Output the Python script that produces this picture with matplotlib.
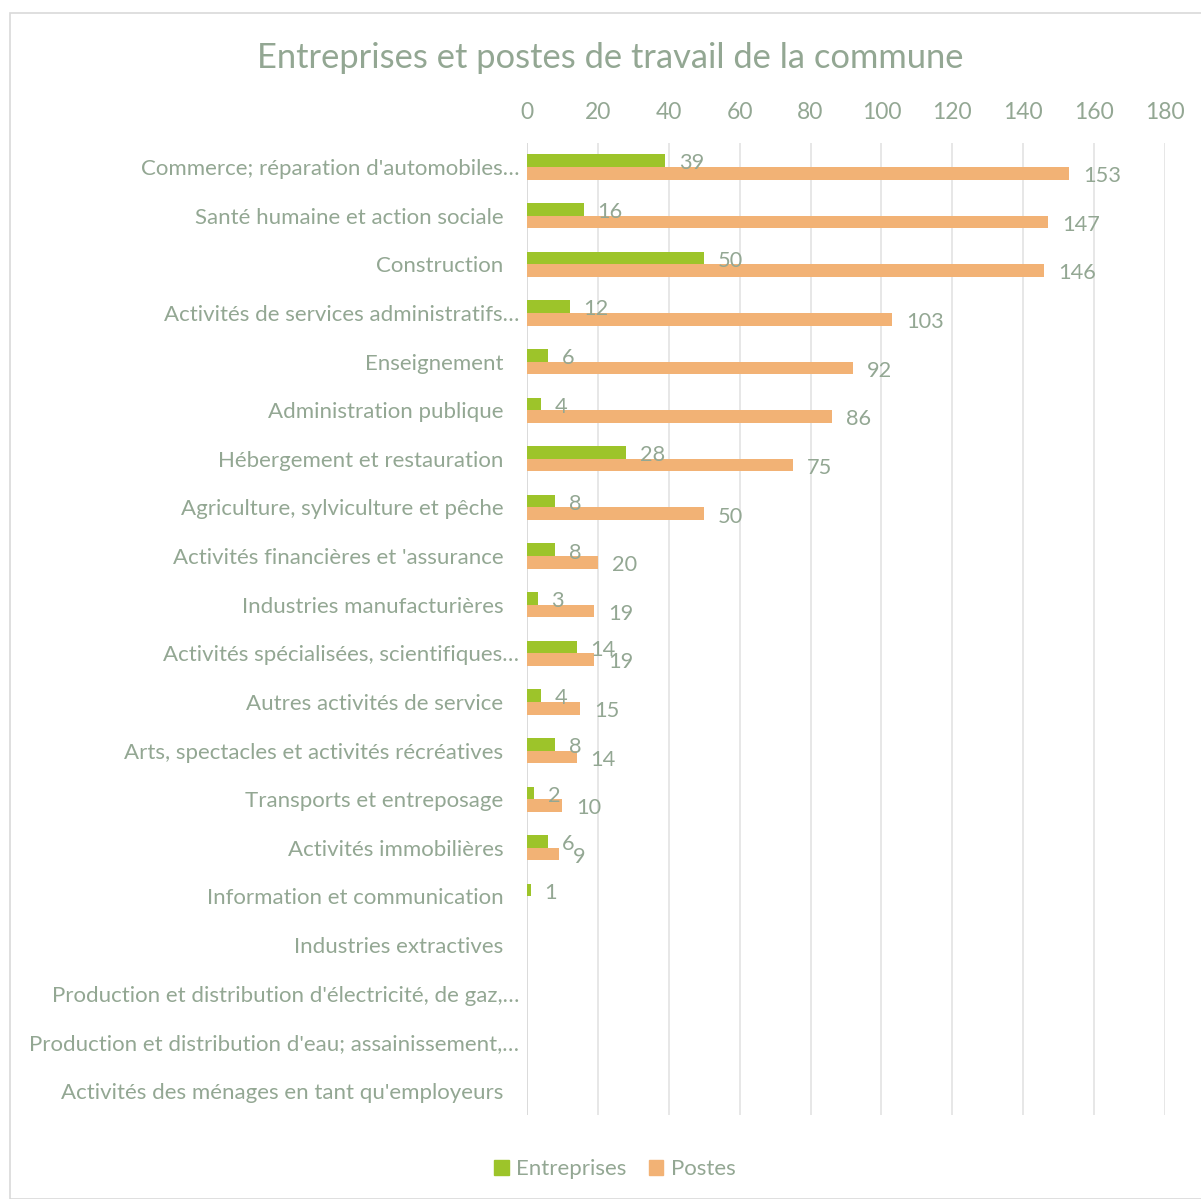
import matplotlib
matplotlib.use("Agg")
import matplotlib.pyplot as plt
from matplotlib.patches import Rectangle, Patch
from matplotlib.transforms import ScaledTranslation

categories = [
    "Commerce; réparation d'automobiles…",
    "Santé humaine et action sociale",
    "Construction",
    "Activités de services administratifs…",
    "Enseignement",
    "Administration publique",
    "Hébergement et restauration",
    "Agriculture, sylviculture et pêche",
    "Activités financières et 'assurance",
    "Industries manufacturières",
    "Activités spécialisées, scientifiques…",
    "Autres activités de service",
    "Arts, spectacles et activités récréatives",
    "Transports et entreposage",
    "Activités immobilières",
    "Information et communication",
    "Industries extractives",
    "Production et distribution d'électricité, de gaz,…",
    "Production et distribution d'eau; assainissement,…",
    "Activités des ménages en tant qu'employeurs",
]
entreprises = [39, 16, 50, 12, 6, 4, 28, 8, 8, 3, 14, 4, 8, 2, 6, 1, 0, 0, 0, 0]
postes = [153, 147, 146, 103, 92, 86, 75, 50, 20, 19, 19, 15, 14, 10, 9, 0, 0, 0, 0, 0]
ticks = [0, 20, 40, 60, 80, 100, 120, 140, 160, 180]
title = "Entreprises et postes de travail de la commune"

GREEN = "#9DC42A"
ORANGE = "#F2B275"
TXT = "#93A793"
GRID = "#E3E3E3"
FONT = ["Lato", "DejaVu Sans"]

plt.rcParams["font.family"] = FONT

fig = plt.figure(figsize=(12.01, 11.99), dpi=100)
fig.patches.append(Rectangle((10/1201, 0), 1.0, 1 - 13/1199, transform=fig.transFigure,
                             fill=False, edgecolor="#D9D9D9", linewidth=1.2))

ax = fig.add_axes([527/1201, 1 - 1115.3/1199, (1165-527)/1201, (1115.3-142.7)/1199])

n = len(categories)
ys = list(range(n))
h = 0.26
yg = [y - h/2 for y in ys]
yo = [y + h/2 for y in ys]
ax.barh(yg, entreprises, height=h, color=GREEN, zorder=3)
ax.barh(yo, postes, height=h, color=ORANGE, zorder=3)

for y, v in zip(yg, entreprises):
    if v:
        ax.annotate(str(v), (v, y), xytext=(10, -2), textcoords="offset points",
                    va="center", ha="left", color=TXT, fontsize=15.7)
for y, v in zip(yo, postes):
    if v:
        ax.annotate(str(v), (v, y), xytext=(10, -2), textcoords="offset points",
                    va="center", ha="left", color=TXT, fontsize=15.7)

ax.set_xlim(0, 180)
ax.set_ylim(n - 0.5, -0.5)
ax.set_xticks(ticks)
ax.set_xticklabels([str(t) for t in ticks])
ax.xaxis.tick_top()
ax.set_yticks(ys)
ax.set_yticklabels(categories)
ax.tick_params(axis="x", length=0, pad=14, labelsize=16.5, labelcolor=TXT)
ax.tick_params(axis="y", length=0, pad=17, labelsize=16, labelcolor=TXT)
for lbl in ax.get_yticklabels():
    if lbl.get_text().endswith("…"):
        lbl.set_transform(lbl.get_transform() + ScaledTranslation(0.16, 0, fig.dpi_scale_trans))
ax.grid(axis="x", color=GRID, linewidth=1.2, zorder=0)
for s in ax.spines.values():
    s.set_visible(False)
ax.axvline(0, color="#D9D9D9", linewidth=1.2, zorder=2)

fig.text(610/1201, 1 - 58/1199, title, ha="center", va="center", fontsize=24.8, color=TXT)

handles = [Patch(color=GREEN, label="Entreprises"), Patch(color=ORANGE, label="Postes")]
fig.legend(handles=handles, loc="center", bbox_to_anchor=(615/1201, 1 - 1169/1199), ncol=2,
           frameon=False, fontsize=16, labelcolor=TXT, handlelength=0.65, handleheight=0.65,
           handletextpad=0.35, columnspacing=1.0)

fig.savefig("out.png", dpi=100)
